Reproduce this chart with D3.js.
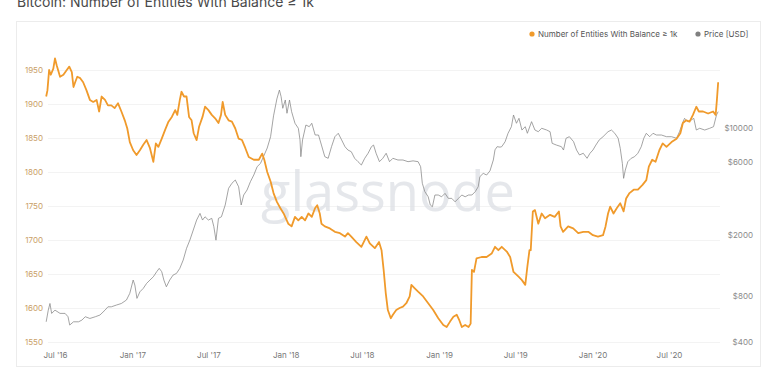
<!DOCTYPE html>
<html>
<head>
<meta charset="utf-8">
<script src="https://cdn.jsdelivr.net/npm/d3@7"></script>
<style>
  html, body { margin: 0; padding: 0; background: #fff; }
  body { width: 775px; height: 376px; overflow: hidden; font-family: Inter, "Open Sans", sans-serif; }
  .axis text { font-family: Inter, "Open Sans", sans-serif; font-size: 8px; }
</style>
</head>
<body>
<div id="chart"></div>
<script>
// series: number of entities with balance >= 1k BTC
const entityDates = [
  '2016-06-10','2016-06-13','2016-06-17','2016-06-21','2016-06-27','2016-07-01','2016-07-05','2016-07-13','2016-07-21','2016-07-29',
  '2016-08-04','2016-08-10','2016-08-14','2016-08-18','2016-08-23','2016-08-30','2016-09-06','2016-09-14','2016-09-22','2016-09-30',
  '2016-10-08','2016-10-14','2016-10-20','2016-10-28','2016-11-04','2016-11-12','2016-11-20','2016-11-28','2016-12-06','2016-12-14',
  '2016-12-20','2016-12-26','2017-01-03','2017-01-11','2017-01-19','2017-01-27','2017-02-04','2017-02-12','2017-02-20','2017-02-26',
  '2017-03-04','2017-03-12','2017-03-20','2017-03-28','2017-04-05','2017-04-13','2017-04-18','2017-04-24','2017-04-28','2017-05-04',
  '2017-05-10','2017-05-16','2017-05-22','2017-05-27','2017-06-03','2017-06-09','2017-06-17','2017-06-23','2017-07-01','2017-07-09',
  '2017-07-17','2017-07-25','2017-07-31','2017-08-04','2017-08-10','2017-08-18','2017-08-26','2017-09-03','2017-09-11','2017-09-19',
  '2017-09-27','2017-10-05','2017-10-17','2017-10-29','2017-11-06','2017-11-11','2017-11-18','2017-11-26','2017-12-03','2017-12-11',
  '2017-12-19','2017-12-27','2018-01-07','2018-01-15','2018-01-23','2018-01-31','2018-02-08','2018-02-16','2018-02-24','2018-03-04',
  '2018-03-12','2018-03-17','2018-03-23','2018-03-27','2018-04-04','2018-04-16','2018-04-28','2018-05-10','2018-05-22','2018-05-29',
  '2018-06-06','2018-06-18','2018-06-30','2018-07-12','2018-07-20','2018-08-01','2018-08-11','2018-08-17','2018-08-22','2018-08-27',
  '2018-09-01','2018-09-08','2018-09-13','2018-09-21','2018-09-29','2018-10-07','2018-10-15','2018-10-23','2018-10-27','2018-11-04',
  '2018-11-12','2018-11-24','2018-12-06','2018-12-18','2018-12-30','2019-01-11','2019-01-19','2019-01-27','2019-02-04','2019-02-12',
  '2019-02-18','2019-02-24','2019-03-04','2019-03-12','2019-03-17','2019-03-20','2019-03-25','2019-03-31','2019-04-12','2019-04-24',
  '2019-05-06','2019-05-14','2019-05-22','2019-05-30','2019-06-11','2019-06-19','2019-06-27','2019-07-09','2019-07-17','2019-07-25',
  '2019-07-30','2019-08-04','2019-08-07','2019-08-12','2019-08-17','2019-08-25','2019-09-02','2019-09-10','2019-09-22','2019-10-03',
  '2019-10-13','2019-10-17','2019-10-23','2019-11-04','2019-11-16','2019-11-28','2019-12-10','2019-12-22','2020-01-02','2020-01-14',
  '2020-01-26','2020-02-01','2020-02-07','2020-02-12','2020-02-20','2020-02-28','2020-03-07','2020-03-15','2020-03-21','2020-03-29',
  '2020-04-08','2020-04-18','2020-04-29','2020-05-08','2020-05-14','2020-05-22','2020-05-30','2020-06-08','2020-06-16','2020-06-25',
  '2020-07-07','2020-07-19','2020-07-28','2020-08-03','2020-08-11','2020-08-19','2020-08-27','2020-09-04','2020-09-10','2020-09-20',
  '2020-10-02','2020-10-14','2020-10-20','2020-10-23','2020-10-26'
];
const entityValues = [
  1911,1920,1950,1943,1952,1967,1957,1940,1943,1950,
  1955,1947,1925,1932,1940,1938,1932,1920,1906,1903,
  1906,1889,1911,1906,1898,1898,1894,1901,1889,1876,
  1864,1844,1832,1825,1832,1840,1847,1835,1815,1842,
  1837,1849,1862,1874,1881,1891,1884,1906,1918,1911,
  1911,1881,1876,1857,1847,1867,1881,1896,1891,1884,
  1879,1872,1884,1903,1884,1876,1874,1864,1849,1847,
  1835,1822,1818,1818,1827,1818,1800,1786,1769,1756,
  1747,1739,1724,1720,1734,1729,1734,1729,1739,1734,
  1747,1751,1739,1724,1720,1717,1712,1710,1705,1710,
  1705,1697,1690,1705,1695,1688,1697,1685,1656,1622,
  1597,1585,1590,1597,1600,1602,1607,1617,1634,1629,
  1624,1617,1607,1597,1585,1575,1572,1580,1587,1590,
  1582,1572,1575,1572,1577,1656,1653,1673,1675,1675,
  1680,1690,1685,1690,1683,1675,1653,1646,1641,1634,
  1661,1685,1685,1742,1744,1724,1739,1732,1737,1734,
  1742,1720,1712,1720,1717,1710,1712,1712,1707,1705,
  1707,1720,1739,1749,1739,1747,1754,1742,1761,1769,
  1774,1774,1781,1788,1808,1818,1815,1832,1842,1837,
  1844,1849,1857,1872,1876,1874,1884,1896,1889,1889,
  1886,1889,1884,1906,1932
];

// series: BTC price in USD
const priceDates = [
  '2016-06-10','2016-06-15','2016-06-19','2016-06-23','2016-07-01','2016-07-13','2016-07-25','2016-08-01','2016-08-05','2016-08-14',
  '2016-08-26','2016-09-03','2016-09-11','2016-09-22','2016-10-05','2016-10-16','2016-10-28','2016-11-04','2016-11-12','2016-11-24',
  '2016-12-06','2016-12-18','2016-12-26','2017-01-03','2017-01-07','2017-01-12','2017-01-19','2017-01-27','2017-02-04','2017-02-12',
  '2017-02-20','2017-02-28','2017-03-06','2017-03-12','2017-03-17','2017-03-23','2017-03-31','2017-04-08','2017-04-16','2017-04-24',
  '2017-05-02','2017-05-10','2017-05-18','2017-05-26','2017-06-03','2017-06-11','2017-06-17','2017-06-23','2017-07-01','2017-07-09',
  '2017-07-14','2017-07-19','2017-07-25','2017-08-01','2017-08-10','2017-08-18','2017-08-26','2017-09-03','2017-09-11','2017-09-17',
  '2017-09-23','2017-10-01','2017-10-09','2017-10-17','2017-10-25','2017-11-02','2017-11-09','2017-11-18','2017-11-26','2017-12-03',
  '2017-12-11','2017-12-17','2017-12-21','2017-12-25','2017-12-31','2018-01-04','2018-01-10','2018-01-15','2018-01-23','2018-01-31',
  '2018-02-04','2018-02-06','2018-02-10','2018-02-18','2018-02-26','2018-03-04','2018-03-12','2018-03-20','2018-03-27','2018-04-04',
  '2018-04-12','2018-04-20','2018-04-28','2018-05-06','2018-05-14','2018-05-22','2018-05-29','2018-06-06','2018-06-14','2018-06-22',
  '2018-06-30','2018-07-08','2018-07-16','2018-07-24','2018-07-29','2018-08-04','2018-08-12','2018-08-20','2018-08-28','2018-09-05',
  '2018-09-13','2018-09-25','2018-10-07','2018-10-19','2018-10-31','2018-11-12','2018-11-18','2018-11-22','2018-11-28','2018-12-06',
  '2018-12-11','2018-12-16','2018-12-22','2018-12-30','2019-01-07','2019-01-15','2019-01-23','2019-01-31','2019-02-08','2019-02-16',
  '2019-02-24','2019-03-04','2019-03-12','2019-03-20','2019-03-28','2019-04-04','2019-04-08','2019-04-16','2019-04-24','2019-05-02',
  '2019-05-10','2019-05-14','2019-05-19','2019-05-26','2019-05-30','2019-06-07','2019-06-14','2019-06-22','2019-06-27','2019-07-04',
  '2019-07-10','2019-07-17','2019-07-25','2019-07-30','2019-08-09','2019-08-17','2019-08-25','2019-09-02','2019-09-14','2019-09-22',
  '2019-09-27','2019-10-07','2019-10-19','2019-10-24','2019-10-30','2019-11-07','2019-11-17','2019-11-24','2019-12-01','2019-12-10',
  '2019-12-19','2019-12-26','2020-01-02','2020-01-09','2020-01-17','2020-01-26','2020-02-07','2020-02-15','2020-02-23','2020-03-02',
  '2020-03-07','2020-03-12','2020-03-15','2020-03-19','2020-03-25','2020-04-02','2020-04-10','2020-04-18','2020-04-26','2020-05-02',
  '2020-05-08','2020-05-16','2020-05-24','2020-06-01','2020-06-13','2020-06-25','2020-07-07','2020-07-19','2020-07-26','2020-08-02',
  '2020-08-07','2020-08-15','2020-08-23','2020-08-29','2020-09-04','2020-09-12','2020-09-24','2020-10-06','2020-10-15','2020-10-22',
  '2020-10-26'
];
const priceValues = [
  542,646,714,615,646,615,615,585,516,542,
  542,556,585,570,585,600,646,679,679,697,
  714,752,832,1016,942,771,851,896,966,1016,
  1067,1151,1211,1151,1016,918,1016,1095,1122,1211,
  1371,1636,1855,2155,2505,2768,2505,2630,2505,2570,
  2265,1850,2570,2630,3140,4035,4355,4575,4130,3140,
  3650,3935,4460,4930,5590,5875,6495,7400,8775,12000,
  15500,17700,16030,13450,15240,12480,15240,12790,10740,9960,
  8360,6495,8360,10460,10200,10740,9000,9000,7740,6495,
  6340,7550,8775,9235,8360,7550,7180,7000,6340,6025,
  5730,6340,6840,7550,7740,6840,6025,6340,6840,6025,
  6340,6180,6180,6025,6100,6025,5590,4355,3840,3555,
  3140,3060,3650,3650,3555,3740,3470,3470,3295,3470,
  3650,3555,3650,3650,3840,4130,4810,5055,4930,5250,
  6180,7200,7550,7500,7550,8135,9235,10200,12160,10740,
  11570,9700,10200,9235,11000,9700,9460,9960,9700,9460,
  7940,7740,7550,7180,8570,8775,8135,7180,6665,6840,
  6340,6840,7180,7740,8360,8775,9460,9700,9235,8570,
  7360,5875,4690,5310,6025,6340,6495,6840,7550,8570,
  9235,8775,9235,9000,9000,8775,8775,8570,9460,10740,
  11570,11000,11280,11570,9700,9960,9700,9960,10200,12160,
  12790
];

const entityTicks = [1550, 1600, 1650, 1700, 1750, 1800, 1850, 1900, 1950];
const priceTicks = [400, 800, 2000, 6000, 10000];
const titleText = 'Bitcoin: Number of Entities With Balance \u2265 1k';
const legendItems = [
  {label: 'Number of Entities With Balance \u2265 1k', colour: '#f09a2b'},
  {label: 'Price [USD]', colour: '#808080'}
];

const width = 775, height = 376;
const parse = d3.timeParse('%Y-%m-%d');

const entities = entityDates.map((d, i) => ({date: parse(d), value: entityValues[i]}));
const prices = priceDates.map((d, i) => ({date: parse(d), value: priceValues[i]}));

const svg = d3.select('#chart').append('svg')
  .attr('width', width)
  .attr('height', height);

// page title, mostly cropped at the top
svg.append('text')
  .attr('x', 17)
  .attr('y', 7)
  .attr('fill', '#4a4a4a')
  .style('font-family', 'Inter, "Open Sans", sans-serif')
  .style('font-size', '14px')
  .text(titleText);

// card
svg.append('rect')
  .attr('x', 16.5).attr('y', 21.5)
  .attr('width', 744).attr('height', 345)
  .attr('fill', '#fff')
  .attr('stroke', '#ececec');

// scales
const x = d3.scaleTime()
  .domain([new Date(2016, 6, 1), new Date(2020, 6, 1)])
  .range([55, 669]);
const yLeft = d3.scaleLinear()
  .domain([1550, 1950])
  .range([342, 70]);
const yRight = d3.scaleLog()
  .domain([400, 10000])
  .range([342, 128]);

// gridlines
svg.append('g')
  .selectAll('line')
  .data(entityTicks)
  .enter().append('line')
    .attr('x1', 48).attr('x2', 720)
    .attr('y1', d => yLeft(d) + 0.5).attr('y2', d => yLeft(d) + 0.5)
    .attr('stroke', '#f3f3f3');

// watermark
svg.append('text')
  .attr('x', 388)
  .attr('y', 211)
  .attr('text-anchor', 'middle')
  .attr('fill', '#dde0e5')
  .attr('opacity', 0.75)
  .style('font-family', '"Open Sans", Inter, sans-serif')
  .style('font-weight', 500)
  .style('font-size', '54px')
  .attr('textLength', 254)
  .attr('lengthAdjust', 'spacingAndGlyphs')
  .text('glassnode');

// axes
const leftAxis = svg.append('g')
  .attr('class', 'axis')
  .attr('transform', 'translate(45,0)')
  .call(d3.axisLeft(yLeft).tickValues(entityTicks).tickSize(0).tickPadding(2).tickFormat(d3.format('d')));
leftAxis.select('.domain').remove();
leftAxis.selectAll('text').attr('fill', '#c9a067');

const rightAxis = svg.append('g')
  .attr('class', 'axis')
  .attr('transform', 'translate(753,0)')
  .call(d3.axisLeft(yRight).tickValues(priceTicks).tickSize(0).tickPadding(0).tickFormat(d => '$' + d));
rightAxis.select('.domain').remove();
rightAxis.selectAll('text').attr('fill', '#8a8a8a');

const bottomAxis = svg.append('g')
  .attr('class', 'axis')
  .attr('transform', 'translate(0,349)')
  .call(d3.axisBottom(x).ticks(d3.timeMonth.every(6)).tickSize(0).tickPadding(3).tickFormat(d3.timeFormat("%b '%y")));
bottomAxis.select('.domain').remove();
bottomAxis.selectAll('text').attr('fill', '#777');

// lines
const priceLine = d3.line()
  .x(d => x(d.date))
  .y(d => yRight(d.value));
const entityLine = d3.line()
  .x(d => x(d.date))
  .y(d => yLeft(d.value));

svg.append('path')
  .datum(prices)
  .attr('fill', 'none')
  .attr('stroke', '#858585')
  .attr('stroke-width', 0.75)
  .attr('stroke-linejoin', 'round')
  .attr('d', priceLine);

svg.append('path')
  .datum(entities)
  .attr('fill', 'none')
  .attr('stroke', '#f09a2b')
  .attr('stroke-width', 1.8)
  .attr('stroke-linejoin', 'round')
  .attr('d', entityLine);

// legend
const legend = svg.append('g').attr('class', 'legend');
const legendX = [532, 698];
legendItems.forEach((item, i) => {
  legend.append('circle')
    .attr('cx', legendX[i]).attr('cy', 34).attr('r', 2.6)
    .attr('fill', item.colour);
  legend.append('text')
    .attr('x', legendX[i] + 6).attr('y', 37)
    .attr('fill', '#555')
    .style('font-family', 'Inter, "Open Sans", sans-serif')
    .style('font-size', '8px')
    .text(item.label);
});
</script>
</body>
</html>
